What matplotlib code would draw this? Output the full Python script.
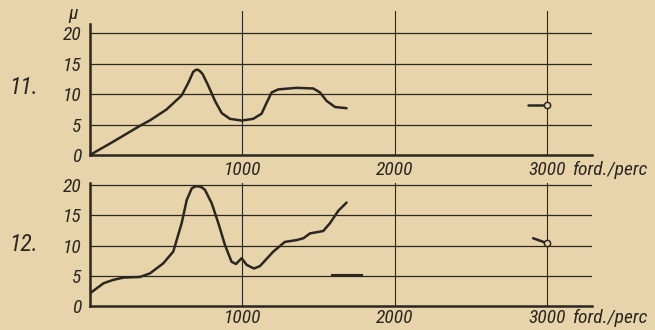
import matplotlib
matplotlib.use("Agg")
import matplotlib.pyplot as plt
from matplotlib import font_manager

# ---- data: friction coefficient mu vs. speed (ford./perc) ----
rpm_11 = [0, 153, 328, 394, 503, 602, 646, 678, 695, 707, 722, 740, 777, 821, 865, 919,
          996, 1072, 1127, 1160, 1193, 1237, 1357, 1466, 1510, 1554, 1609, 1685]
mu_11 = [0.0, 2.2, 4.8, 5.7, 7.5, 9.8, 11.9, 13.7, 14.0, 14.05, 13.8, 13.3, 11.4, 8.9,
         6.9, 5.95, 5.67, 5.95, 6.8, 8.6, 10.3, 10.8, 11.05, 10.95, 10.3, 8.9, 7.9, 7.7]
rpm_11_high = [2875, 3000]
mu_11_high = [8.2, 8.2]

rpm_12 = [0, 88, 150, 219, 270, 328, 394, 481, 547, 602, 635, 668, 690, 711, 735, 755,
          799, 843, 886, 930, 959, 996, 1029, 1077, 1116, 1204, 1280, 1357, 1401, 1445,
          1532, 1576, 1631, 1685]
mu_12 = [2.1, 3.75, 4.3, 4.7, 4.75, 4.8, 5.4, 7.05, 9.0, 13.7, 17.5, 19.45, 19.75, 19.8,
         19.6, 19.2, 17.0, 13.7, 10.1, 7.3, 6.95, 7.9, 6.8, 6.2, 6.6, 9.0, 10.6, 10.9,
         11.2, 12.0, 12.4, 13.7, 15.75, 17.1]
rpm_12_high = [2910, 3000]
mu_12_high = [11.2, 10.4]
rpm_12_mark = [1587, 1784]
mu_12_mark = [5.1, 5.1]

y_ticks = [0, 5, 10, 15, 20]
x_ticks = [1000, 2000, 3000]
x_tick_labels = ["1000", "2000", "3000"]
panel_labels = ["11.", "12."]

paper = "#e8d4ab"
ink = "#2b2620"

available = {f.name for f in font_manager.fontManager.ttflist}
narrow = [n for n in ("Liberation Sans Narrow", "DejaVu Sans Condensed",
                      "Roboto Condensed", "Open Sans Condensed") if n in available]
plt.rcParams["font.family"] = narrow[:1] + ["DejaVu Sans"]
fstyle = dict(style="italic", color=ink, fontstretch="condensed")
fs = 14

fig = plt.figure(figsize=(6.55, 3.3), dpi=100, facecolor=paper)
ax1 = fig.add_axes([0.1374, 0.5303, 0.766, 0.4364])
ax2 = fig.add_axes([0.1374, 0.0727, 0.766, 0.3721])
XMAX = 3295


def frame(ax, ytop, spine_top, panel, label_y, xpad):
    ax.set_facecolor(paper)
    ax.set_xlim(0, XMAX)
    ax.set_ylim(0, ytop)
    for s in ("top", "right"):
        ax.spines[s].set_visible(False)
    for s in ("left", "bottom"):
        ax.spines[s].set_color(ink)
        ax.spines[s].set_linewidth(1.8)
    ax.spines["left"].set_bounds(0, spine_top)
    for y in y_ticks[1:]:
        ax.axhline(y, color=ink, lw=0.9, zorder=1)
    for x in x_ticks:
        ax.axvline(x, color=ink, lw=0.8, zorder=1)
    ax.set_yticks(y_ticks)
    ax.set_yticklabels([str(v) for v in y_ticks], fontsize=fs, **fstyle)
    ax.set_xticks(x_ticks)
    ax.set_xticklabels(x_tick_labels, fontsize=fs, **fstyle)
    ax.tick_params(length=0, pad=6)
    ax.tick_params(axis="x", pad=xpad)
    ax.text(-0.16, label_y, panel, transform=ax.transAxes,
            fontsize=17, ha="left", va="center", **fstyle)
    ax.annotate("ford./perc", xy=(3000, 0), xycoords="data",
                xytext=(18, -xpad), textcoords="offset points",
                ha="left", va="top", fontsize=fs, annotation_clip=False, **fstyle)


frame(ax1, 23.7, 21.5, panel_labels[0], 11.1 / 23.7, 4.5)
frame(ax2, 20.3, 20.3, panel_labels[1], 10.1 / 20.3, 2)

line_kw = dict(color=ink, lw=1.8, solid_capstyle="round", solid_joinstyle="round", zorder=3)
ax1.plot(rpm_11, mu_11, **line_kw)
ax1.plot(rpm_11_high, mu_11_high, **line_kw)
ax1.plot(rpm_11_high[-1:], mu_11_high[-1:], marker="o", ms=4.5, mfc=paper,
         mec=ink, mew=1.1, zorder=4)

ax2.plot(rpm_12, mu_12, **line_kw)
ax2.plot(rpm_12_mark, mu_12_mark, color=ink, lw=1.5, zorder=3)
ax2.plot(rpm_12_high, mu_12_high, **line_kw)
ax2.plot(rpm_12_high[-1:], mu_12_high[-1:], marker="o", ms=4.5, mfc=paper,
         mec=ink, mew=1.1, zorder=4)

fig.text(73 / 655, 1 - 14 / 330, "μ", fontsize=fs, ha="center", va="center", **fstyle)

fig.savefig("out.png", dpi=100, facecolor=paper)
